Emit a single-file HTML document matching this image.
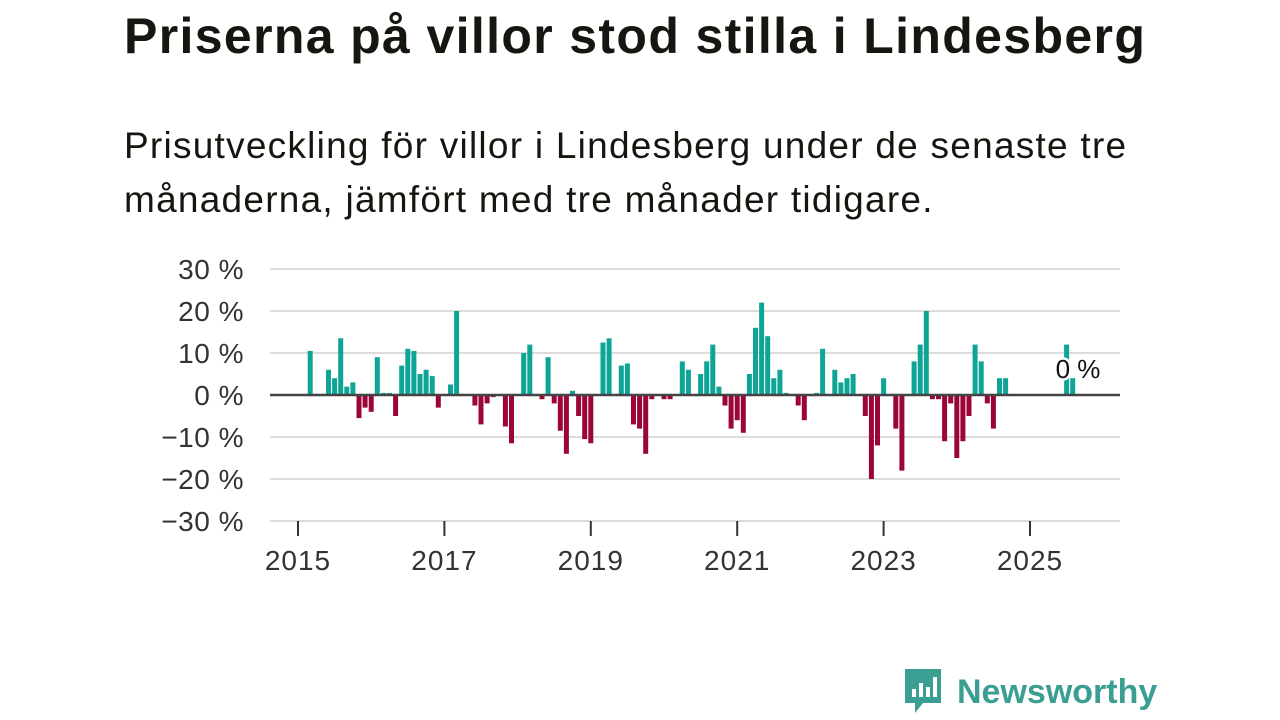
<!DOCTYPE html>
<html><head><meta charset="utf-8"><style>
body{margin:0;width:1280px;height:720px;background:#fff;font-family:"Liberation Sans",sans-serif;overflow:hidden}
#title{position:absolute;left:124px;top:7px;font-size:50px;font-weight:bold;color:#15160f;white-space:nowrap;letter-spacing:1.35px}
#sub{position:absolute;left:124px;top:119px;font-size:37px;line-height:54px;color:#15160f;width:1100px;letter-spacing:1.25px}
svg{position:absolute;left:0;top:0}
</style></head><body>
<div id="title">Priserna på villor stod stilla i Lindesberg</div>
<div id="sub">Prisutveckling för villor i Lindesberg under de senaste tre<br>månaderna, jämfört med tre månader tidigare.</div>
<svg id="chart" width="1280" height="720"></svg>
<script>
const months=[2,5,6,7,8,9,10,11,12,13,14,15,16,17,18,19,20,21,22,23,25,26,29,30,31,32,34,35,37,38,40,41,42,43,44,45,46,47,48,50,51,53,54,55,56,57,58,60,61,63,64,66,67,68,69,70,71,72,73,74,75,76,77,78,79,80,82,83,85,86,88,89,90,91,93,94,95,96,98,99,101,102,103,104,105,106,107,108,109,110,111,112,113,114,115,116,126,127];
const values=[10.5,6,4,13.5,2,3,-5.5,-3,-4,9,0.5,0.5,-5,7,11,10.5,5,6,4.5,-3,2.5,20,-2.5,-7,-2,-0.5,-7.5,-11.5,10,12,-1,9,-2,-8.5,-14,1,-5,-10.5,-11.5,12.5,13.5,7,7.5,-7,-8,-14,-1,-1,-1,8,6,5,8,12,2,-2.5,-8,-6,-9,5,16,22,14,4,6,0.5,-2.5,-6,0.5,11,6,3,4,5,-5,-20,-12,4,-8,-18,8,12,20,-1,-1,-11,-2,-15,-11,-5,12,8,-2,-8,4,4,12,4];
const yTicks=[30,20,10,0,-10,-20,-30];
const xTicks=[2015,2017,2019,2021,2023,2025];
const NS="http://www.w3.org/2000/svg";
const svg=document.getElementById('chart');
const x0=270,x1=1120;
const mx=m=>298+m*6.1;
const yx=v=>395-v*4.2;
const yrX=y=>298+(y-2015)*73.2;
function mk(t,a){const e=document.createElementNS(NS,t);for(const k in a)e.setAttribute(k,a[k]);svg.appendChild(e);return e;}
yTicks.forEach(v=>{
  const l=mk('line',{x1:x0,x2:x1,y1:yx(v),y2:yx(v),stroke:'#dcdcdc','stroke-width':2});
  
  
  const t=mk('text',{x:244,y:yx(v)+10,'text-anchor':'end','font-size':28,fill:'#333','letter-spacing':0.5,'font-family':'Liberation Sans, sans-serif'});
  t.textContent=(v<0?'−'+(-v):v)+' %';
  
  
});
xTicks.forEach(y=>{
  const l=mk('line',{x1:yrX(y),x2:yrX(y),y1:521,y2:536,stroke:'#333','stroke-width':2});
  
  
  const t=mk('text',{x:yrX(y),y:570,'text-anchor':'middle','font-size':28,fill:'#333','letter-spacing':1,'font-family':'Liberation Sans, sans-serif'});
  t.textContent=y;
  
  
});
months.forEach((m,i)=>{
  const v=values[i];
  const r=mk('rect',{x:mx(m)-2.5,width:5,y:Math.min(yx(v),395),height:Math.abs(yx(v)-395),fill:v>=0?'#0ea597':'#9b0538'});
  
  
});
const z=mk('line',{x1:x0,x2:x1,y1:395,y2:395,stroke:'#444','stroke-width':2.5});


const lb=mk('text',{x:1078,y:378,'text-anchor':'middle','font-size':26,fill:'#111',stroke:'#fff','stroke-width':5,'paint-order':'stroke','font-family':'Liberation Sans, sans-serif'});
lb.textContent='0 %';


</script>
<div style="position:absolute;left:903px;top:670px;height:44px;display:flex;align-items:center">
<svg width="40" height="50" viewBox="0 0 40 50" style="position:static"><path d="M2 2h36v34H20l-8 10v-10H2z" fill="#3a9e92"/><rect x="9" y="22" width="4" height="8" fill="#fff"/><rect x="16" y="16" width="4" height="14" fill="#fff"/><rect x="23" y="20" width="4" height="10" fill="#fff"/><rect x="30" y="10" width="4" height="20" fill="#fff"/></svg>
<span style="margin-left:14px;font-size:34px;font-weight:bold;color:#3a9e92">Newsworthy</span></div>
</body></html>
